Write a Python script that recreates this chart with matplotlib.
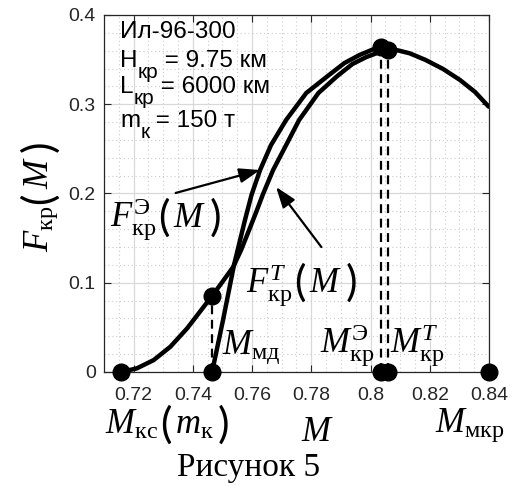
import numpy as np
import matplotlib
matplotlib.use("Agg")
import matplotlib.pyplot as plt
from matplotlib.ticker import MultipleLocator, FixedLocator, FixedFormatter

plt.rcParams['font.family'] = ['Liberation Sans', 'DejaVu Sans']
plt.rcParams['mathtext.fontset'] = 'custom'
plt.rcParams['mathtext.rm'] = 'Liberation Serif'
plt.rcParams['mathtext.it'] = 'Liberation Serif:italic'
plt.rcParams['mathtext.bf'] = 'Liberation Serif:bold'
plt.rcParams['mathtext.fallback'] = 'stix'

# кривая от M_кс (внутренняя у вершины, продолжается до 0.84)
m_t = [0.7158, 0.7211, 0.7268, 0.7324, 0.7381, 0.7437, 0.7465, 0.7502,
       0.7536, 0.7563, 0.7590, 0.7614, 0.7637, 0.7671, 0.7715, 0.7759,
       0.7824, 0.7888, 0.7939, 0.7986, 0.8031, 0.8059, 0.8092, 0.8132,
       0.8186, 0.8245, 0.8302, 0.8353, 0.8399]
f_t = [0.0, 0.0041, 0.0134, 0.0283, 0.0490, 0.0732, 0.0852, 0.1020,
       0.1176, 0.1367, 0.1591, 0.1793, 0.1994, 0.2263, 0.2543, 0.2824,
       0.3126, 0.3317, 0.3451, 0.3529, 0.3585, 0.3608, 0.3604, 0.3571,
       0.3496, 0.3395, 0.3272, 0.3137, 0.2973]

# кривая от M_мд (внешняя у вершины)
m_e = [0.7465, 0.7502, 0.7539, 0.7576, 0.7598, 0.7627, 0.7664, 0.7715,
       0.7783, 0.7851, 0.7912, 0.7963, 0.8007, 0.8034]
f_e = [0.0, 0.0583, 0.1199, 0.1703, 0.1983, 0.2263, 0.2543, 0.2824,
       0.3126, 0.3305, 0.3462, 0.3552, 0.3613, 0.3641]

# характерные точки
pts_m = [0.7158, 0.7465, 0.7465, 0.8034, 0.8059, 0.8034, 0.8059, 0.84]
pts_f = [0.0, 0.0852, 0.0, 0.3641, 0.3608, 0.0, 0.0, 0.0]

# пунктирные вертикали
drop_m = [0.7465, 0.8034, 0.8059]
drop_f = [0.0852, 0.3641, 0.3608]

x_ticks = [0.72, 0.74, 0.76, 0.78, 0.80, 0.82, 0.84]
x_labels = ['0.72', '0.74', '0.76', '0.78', '0.8', '0.82', '0.84']
y_ticks = [0.0, 0.1, 0.2, 0.3, 0.4]
y_labels = ['0', '0.1', '0.2', '0.3', '0.4']

W, H = 523, 486
fig = plt.figure(figsize=(W / 100, H / 100), dpi=100)
ax = fig.add_axes([104 / W, 1 - 372 / H, 385 / W, 357 / H])

ax.set_xlim(0.71, 0.84)
ax.set_ylim(0, 0.4)
ax.xaxis.set_major_locator(FixedLocator(x_ticks))
ax.xaxis.set_major_formatter(FixedFormatter(x_labels))
ax.yaxis.set_major_locator(FixedLocator(y_ticks))
ax.yaxis.set_major_formatter(FixedFormatter(y_labels))
ax.xaxis.set_minor_locator(MultipleLocator(0.005))
ax.yaxis.set_minor_locator(MultipleLocator(0.02))
ax.set_axisbelow(True)
ax.grid(which='major', color='#d9d9d9', lw=0.9)
ax.grid(which='minor', color='#cccccc', lw=0.8, ls=(0, (1, 2.5)))
ax.tick_params(which='major', direction='in', length=5, width=0.8,
               top=True, right=True, labelsize=14, colors='#262626',
               labelcolor='#262626')
ax.tick_params(axis='x', pad=11)
ax.tick_params(axis='y', pad=6)
ax.tick_params(which='minor', length=0)
for s in ax.spines.values():
    s.set_color('#262626')
    s.set_linewidth(0.9)

ax.plot(m_t, f_t, color='black', lw=3.2, solid_capstyle='round',
        solid_joinstyle='round', zorder=3)
ax.plot(m_e, f_e, color='black', lw=3.2, solid_capstyle='round',
        solid_joinstyle='round', zorder=3)
for xm, yf in zip(drop_m, drop_f):
    ax.plot([xm, xm], [0, yf], color='black', lw=1.6, ls=(0, (4, 2.5)), zorder=2)
ax.plot(pts_m, pts_f, 'o', color='black', ms=12, clip_on=False, zorder=5)

# стрелки к кривым
ax.annotate('', xy=(0.7627, 0.2263), xytext=(0.7342, 0.2006),
            arrowprops=dict(arrowstyle='-|>,head_length=0.7,head_width=0.25',
                            color='black', lw=1.6, mutation_scale=18,
                            shrinkA=0, shrinkB=0))
ax.annotate('', xy=(0.7681, 0.2073), xytext=(0.7834, 0.1400),
            arrowprops=dict(arrowstyle='-|>,head_length=0.7,head_width=0.25',
                            color='black', lw=1.6, mutation_scale=18,
                            shrinkA=0, shrinkB=0))

ax.text(0.7597, 0.027, r'$M_{\mathrm{мд}}$', fontsize=25, ha='center', va='center')
ax.text(0.7922, 0.030, r'$M_{\mathrm{кр}}^{\mathrm{Э}}$', fontsize=25,
        ha='center', va='center')
ax.text(0.8156, 0.030, r'$M_{\mathrm{кр}}^{T}$', fontsize=25,
        ha='center', va='center')
fig.text(470 / W, 1 - 425 / H, r'$M_{\mathrm{мкр}}$', fontsize=25,
         ha='center', va='center')
fig.text(249 / W, 1 - 468 / H, 'Рисунок 5', fontsize=24,
         family='Liberation Serif', ha='center', va='center')

renderer = fig.canvas.get_renderer()

serif = 'Liberation Serif'
paren = ('Lato', 'normal')


def chain(x0, y0, parts, rot=0, family='Liberation Sans'):
    # куски текста подряд от точки базовой линии (пиксели от левого верхнего угла)
    # part: (текст, кегль, сдвиг вниз, доп. отступ после, (шрифт, насыщенность))
    a = np.deg2rad(rot)
    pos = 0.0
    for part in parts:
        s, fs, off = part[:3]
        gap = part[3] if len(part) > 3 else 0
        fam, wt = (part[4] if len(part) > 4 else (family, 'normal'))
        tmp = fig.text(0, 0, s, fontsize=fs, family=fam, weight=wt)
        w = tmp.get_window_extent(renderer).width
        tmp.remove()
        px = x0 + pos * np.cos(a) + off * np.sin(a)
        py = y0 - pos * np.sin(a) + off * np.cos(a)
        fig.text(px / W, 1 - py / H, s, fontsize=fs, family=fam, weight=wt,
                 rotation=rot, rotation_mode='anchor',
                 ha='left', va='baseline', color='black')
        pos += w + gap


def math_with_parens(x0, y0, head, inner, rot=0):
    return chain(x0, y0, [(head, 25, 0, 2), ('(', 31, 4, 3, paren),
                          (inner, 25, 0, 4), (')', 31, 4, 0, paren)],
                 rot=rot, family=serif)


math_with_parens(110, 227, r'$F_{\mathrm{кр}}^{\mathrm{Э}}$', r'$M$')
math_with_parens(246, 292, r'$F_{\mathrm{кр}}^{T}$', r'$M$')
math_with_parens(105, 434, r'$M_{\mathrm{кс}}$', r'$m_{\mathrm{к}}$')
math_with_parens(48, 252, r'$F_{\mathrm{кр}}$', r'$M$', rot=90)
chain(301, 441, [(r'$M$', 25, 0)], family=serif)

# блок параметров (индекс ниже строки, как в MATLAB)
chain(120, 38, [('Ил-96-300', 17.5, 0)])
chain(120, 67, [('H', 17.5, 0), ('кр', 15, 11), (' = 9.75 км', 17.5, 0)])
chain(120, 93, [('L', 17.5, 0), ('кр', 15, 11), (' = 6000 км', 17.5, 0)])
chain(120, 127, [('m', 17.5, 0), ('к', 15, 11), (' = 150 т', 17.5, 0)])

fig.savefig('out.png', dpi=100)
